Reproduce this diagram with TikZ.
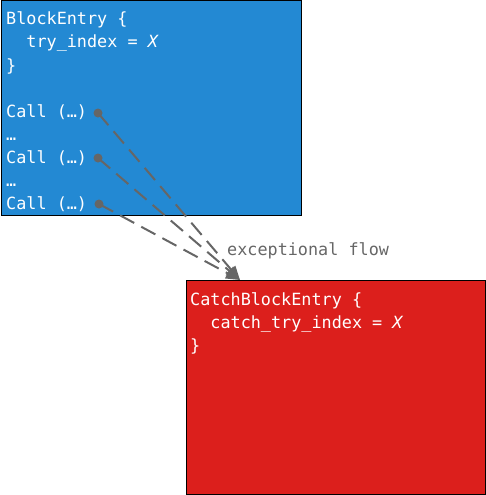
\documentclass[tikz,border=0pt]{standalone}
\usepackage{fontspec}
\setmonofont{DejaVu Sans Mono}
\usetikzlibrary{arrows.meta}
\definecolor{blockblue}{HTML}{2389D3}
\definecolor{catchred}{HTML}{DC1F1C}
\definecolor{flowgray}{HTML}{666666}
\tikzset{
  x=1pt,y=1pt,
  box/.style={draw=black,line width=1pt,inner sep=0pt,anchor=north west},
  code/.style={anchor=base west,inner sep=0pt,text=white,font=\ttfamily\fontsize{16.8}{23}\selectfont},
  dot/.style={circle,fill=flowgray,inner sep=0pt,minimum size=9pt},
  flow/.style={draw=flowgray,line width=2pt,dash pattern=on 16pt off 8pt,-{Triangle[length=14pt,width=11pt]}},
  flowlabel/.style={anchor=base west,inner sep=0pt,text=flowgray,font=\ttfamily\fontsize{16.8}{23}\selectfont}
}
\begin{document}
\begin{tikzpicture}
\useasboundingbox (0,0) rectangle (485,-495);
\node[box,fill=blockblue,minimum width=300pt,minimum height=214pt] (block) at (0.5,-0.5) {};
\node[box,fill=catchred,minimum width=299pt,minimum height=214pt] (catch) at (185.5,-280) {};
\node[code] (b1) at (6,-25) {BlockEntry \{};
\node[code] (b2) at (6,-48) {\ \ try\_index = \textit{X}};
\node[code] (b3) at (6,-71) {\}};
\node[code] (c1) at (6,-117) {Call (…)};
\node[code] (e1) at (6,-140) {…};
\node[code] (c2) at (6,-163) {Call (…)};
\node[code] (e2) at (6,-186) {…};
\node[code] (c3) at (6,-209) {Call (…)};
\node[code] (r1) at (190,-305) {CatchBlockEntry \{};
\node[code] (r2) at (190,-328) {\ \ catch\_try\_index = \textit{X}};
\node[code] (r3) at (190,-351) {\}};
\node[dot] (d1) at (98,-113) {};
\node[dot] (d2) at (98,-158) {};
\node[dot] (d3) at (99,-204) {};
\coordinate (tgt) at (240,-280);
\draw[flow] (d1.center) -- (tgt);
\draw[flow] (d2.center) -- (tgt);
\draw[flow] (d3.center) -- (tgt);
\node[flowlabel] (lbl) at (227,-255) {exceptional flow};
\end{tikzpicture}
\end{document}
